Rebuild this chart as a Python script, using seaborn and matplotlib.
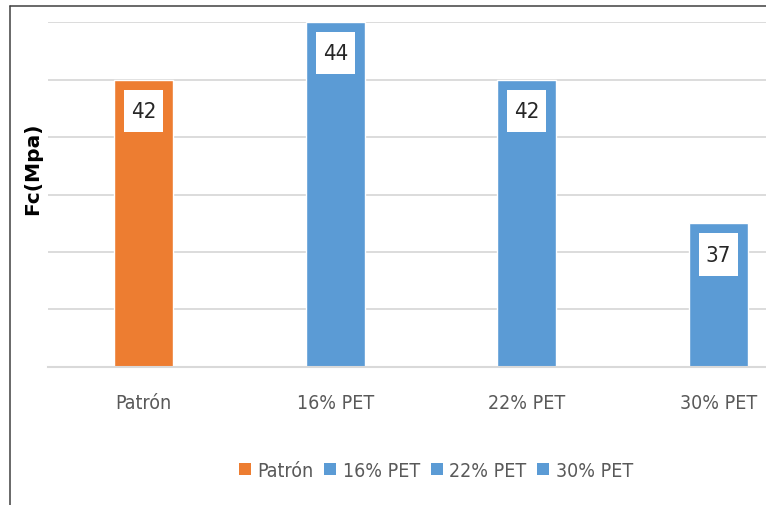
import matplotlib
matplotlib.use("Agg")
import matplotlib.pyplot as plt
from matplotlib import font_manager
from matplotlib.lines import Line2D
from matplotlib.patches import Patch
from matplotlib.path import Path
import seaborn as sns
import pandas as pd

# Compressive strength by PET replacement
categories = ["Patrón", "16% PET", "22% PET", "30% PET"]
strength = [42, 44, 42, 37]
bar_colors = ["#ED7D31", "#5B9BD5", "#5B9BD5", "#5B9BD5"]
y_ticks = [32, 34, 36, 38, 40, 42, 44]

df = pd.DataFrame({"mezcla": categories, "fc": strength})

sns.set_theme(style="white")

names = {f.name for f in font_manager.fontManager.ttflist}
if "Liberation Sans Narrow" in names:
    body_font = ["Liberation Sans Narrow", "DejaVu Sans"]
    stretch = "normal"
else:
    body_font = ["DejaVu Sans"]
    stretch = "condensed"
plt.rcParams["font.family"] = body_font


def label_box(x0, y0, width, height, mutation_size):
    """Rectangle with separate horizontal and vertical padding."""
    px = 0.31 * mutation_size
    py = 0.50 * mutation_size
    x1, y1 = x0 - px, y0 - py
    x2, y2 = x0 + width + px, y0 + height + py
    return Path([(x1, y1), (x2, y1), (x2, y2), (x1, y2), (x1, y1)], closed=True)


W, H = 766, 506
fig = plt.figure(figsize=(W / 100, H / 100), dpi=100)
fig.patch.set_facecolor("white")

# plot area in pixel terms: left 48, right 814, top 23, bottom 368
ax = fig.add_axes([48 / W, (H - 368) / H, (814 - 48) / W, (368 - 23) / H])

sns.barplot(data=df, x="mezcla", y="fc", hue="mezcla",
            palette=dict(zip(categories, bar_colors)), order=categories,
            hue_order=categories, dodge=False, width=0.31, saturation=1,
            legend=False, ax=ax, zorder=3)

ax.set_ylim(y_ticks[0], y_ticks[-1])
ax.set_xlim(-0.5, len(categories) - 0.5)
ax.set_yticks(y_ticks)
ax.set_yticklabels([])
ax.yaxis.grid(True, color="#D9D9D9", linewidth=1.3, zorder=0)
ax.set_axisbelow(True)
for s in ["top", "right", "left"]:
    ax.spines[s].set_visible(False)
ax.spines["bottom"].set_color("#D9D9D9")
ax.spines["bottom"].set_linewidth(1.5)
ax.spines["bottom"].set_zorder(4)
ax.tick_params(axis="y", length=0)
ax.tick_params(axis="x", length=0, pad=19, labelsize=14, labelcolor="#595959")
for t in ax.get_xticklabels():
    t.set_fontstretch(stretch)
ax.set_xlabel("")

# value labels in white boxes near the top of each bar
for i, v in enumerate(strength):
    ax.annotate(f"{v}", xy=(i, v), xytext=(0, -22.5), textcoords="offset points",
                ha="center", va="center", fontsize=16, color="#262626",
                fontstretch=stretch,
                bbox=dict(boxstyle=label_box, fc="white", ec="none"),
                zorder=5, annotation_clip=False)

ax.set_ylabel("Fc(Mpa)", fontsize=14.5, fontweight="bold", color="black",
              family="DejaVu Sans")
ax.yaxis.set_label_coords((33 - 48) / (814 - 48), (368 - 169) / (368 - 23))
ax.yaxis.label.set_va("center")

handles = [Patch(facecolor=c, edgecolor="none") for c in bar_colors]
leg = fig.legend(handles, categories, loc="center",
                 bbox_to_anchor=(436 / W, 1 - 471.5 / H), ncol=4, frameon=False,
                 fontsize=14, handlelength=0.6, handleheight=0.6,
                 handletextpad=0.35, columnspacing=0.55, borderpad=0)
for t in leg.get_texts():
    t.set_color("#595959")
    t.set_fontstretch(stretch)

# outer chart border (top and left edges)
fig.add_artist(Line2D([9.5 / W, 9.5 / W], [0, 1 - 7 / H], transform=fig.transFigure,
                      color="#404040", linewidth=1.1))
fig.add_artist(Line2D([9.5 / W, 1], [1 - 7 / H, 1 - 7 / H], transform=fig.transFigure,
                      color="#404040", linewidth=1.1))

fig.savefig("out.png", dpi=100)
